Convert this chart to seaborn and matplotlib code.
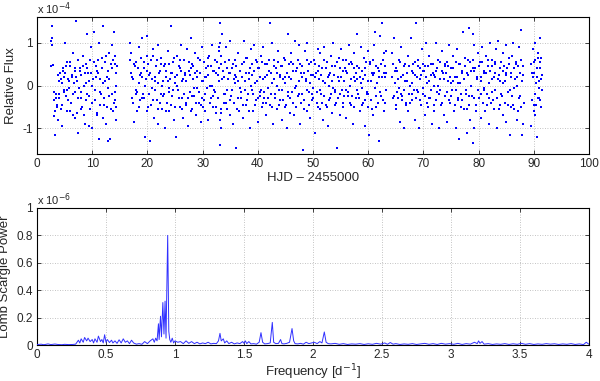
import matplotlib
matplotlib.use("Agg")
import matplotlib.pyplot as plt
import seaborn as sns
import numpy as np
import pandas as pd

# ---------------- data: light curve (flux in units of 1e-4) ----------------
hjd = [
    2.6, 2.7, 2.7, 2.8, 2.9, 3.0, 3.1, 3.3, 3.4, 3.6, 3.8, 3.9,
    4.0, 4.2, 4.3, 4.5, 4.6, 4.8, 4.9,
    5.0, 5.2, 5.3, 5.5, 5.7, 5.8,
    6.0, 6.1, 6.3, 6.5, 6.6, 6.8, 6.9,
    7.0, 7.2, 7.3, 7.5, 7.7, 7.9,
    8.0, 8.2, 8.4, 8.5, 8.7, 8.9,
    9.0, 9.1, 9.3, 9.5, 9.6, 9.8,
    10.0, 10.2, 10.3, 10.5, 10.7, 10.9,
    11.0, 11.2, 11.3, 11.5, 11.7, 11.9,
    12.0, 12.1, 12.3, 12.5, 12.6, 12.8,
    13.0, 13.1, 13.3, 13.5, 13.6, 13.8,
    14.0, 14.1, 14.2, 14.3, 14.4,
    16.9, 17.0, 17.2, 17.3, 17.5, 17.7, 17.9,
    18.0, 18.2, 18.4, 18.5, 18.7, 18.9,
    19.1, 19.2, 19.4, 19.6, 19.7, 19.9,
    20.0, 20.1, 20.3, 20.5, 20.7, 20.8,
    21.0, 21.2, 21.3, 21.5, 21.7, 21.9,
    22.0, 22.2, 22.4, 22.5, 22.7, 22.9,
    23.1, 23.2, 23.4, 23.5, 23.7, 23.9,
    24.0, 24.2, 24.3, 24.5, 24.7, 24.9,
    25.0, 25.2, 25.4, 25.5, 25.7, 25.9,
    26.0, 26.2, 26.3, 26.5, 26.7, 26.8,
    27.0, 27.2, 27.3, 27.5, 27.7, 27.9,
    28.0, 28.1, 28.3, 28.5, 28.7, 28.8,
    29.0, 29.2, 29.4, 29.5, 29.7, 29.9,
    30.0, 30.2, 30.3, 30.5, 30.7, 30.9,
    31.0, 31.2, 31.4, 31.5, 31.7, 31.9,
    32.0, 32.2, 32.3, 32.5, 32.7, 32.9,
    33.0, 33.1, 33.2, 33.2, 33.3, 33.3, 33.4, 33.6, 33.8,
    34.0, 34.2, 34.3, 34.5, 34.7, 34.9,
    35.0, 35.2, 35.4, 35.5, 35.7, 35.9,
    36.0, 36.1, 36.3, 36.5, 36.7, 36.8,
    37.0, 37.2, 37.3, 37.5, 37.7, 37.9,
    38.0, 38.2, 38.4, 38.5, 38.7, 38.9,
    39.0, 39.2, 39.3, 39.5, 39.7, 39.9,
    40.0, 40.2, 40.4, 40.5, 40.7, 40.9,
    41.0, 41.2, 41.3, 41.5, 41.7, 41.9,
    42.0, 42.2, 42.3, 42.5, 42.6, 42.8,
    43.0, 43.2, 43.4, 43.5, 43.7, 43.9,
    44.0, 44.2, 44.3, 44.5, 44.7, 44.9,
    45.0, 45.2, 45.4, 45.5, 45.7, 45.9,
    46.0, 46.2, 46.3, 46.5, 46.7, 46.9,
    47.0, 47.2, 47.4, 47.5, 47.7, 47.9,
    48.0, 48.1, 48.3, 48.5, 48.7, 48.9,
    49.0, 49.2, 49.3, 49.5, 49.7, 49.9,
    50.0, 50.2, 50.4, 50.5, 50.7, 50.9,
    51.0, 51.2, 51.3, 51.5, 51.7, 51.9,
    52.0, 52.2, 52.3, 52.5, 52.7, 52.9,
    53.0, 53.2, 53.4, 53.5, 53.7, 53.9,
    54.0, 54.2, 54.3, 54.5, 54.7, 54.9,
    55.0, 55.2, 55.4, 55.5, 55.7, 55.9,
    56.0, 56.2, 56.3, 56.5, 56.7, 56.9,
    57.0, 57.2, 57.4, 57.5, 57.7, 57.9,
    58.0, 58.2, 58.3, 58.5, 58.7, 58.9,
    59.0, 59.2, 59.4, 59.5, 59.7, 59.9,
    60.0, 60.2, 60.3, 60.5, 60.7, 60.9,
    61.0, 61.2, 61.3, 61.5, 61.7, 61.9,
    62.0, 62.2, 62.4, 62.5, 62.7, 62.9,
    63.0, 63.1, 63.2,
    64.4, 64.5, 64.7, 64.9,
    65.0, 65.2, 65.3, 65.5, 65.7, 65.9,
    66.0, 66.2, 66.4, 66.5, 66.7, 66.9,
    67.0, 67.2, 67.3, 67.5, 67.7, 67.9,
    68.0, 68.2, 68.4, 68.5, 68.7, 68.9,
    69.0, 69.2, 69.3, 69.5, 69.7, 69.9,
    70.0, 70.2, 70.3, 70.5, 70.7, 70.9,
    71.0, 71.2, 71.4, 71.5, 71.7, 71.9,
    72.0, 72.2, 72.3, 72.5, 72.7, 72.9,
    73.0, 73.2, 73.4, 73.5, 73.7, 73.9,
    74.0, 74.2, 74.3, 74.5, 74.7, 74.9,
    75.0, 75.2, 75.4, 75.5, 75.7, 75.9,
    76.0, 76.2, 76.3, 76.5, 76.7, 76.9,
    77.0, 77.2, 77.4, 77.5, 77.7, 77.9,
    78.0, 78.2, 78.3, 78.5, 78.7, 78.9,
    79.0, 79.1, 79.2, 79.3, 79.5, 79.7, 79.9,
    80.0, 80.2, 80.4, 80.5, 80.7, 80.9,
    81.0, 81.2, 81.3, 81.5, 81.7, 81.9,
    82.0, 82.2, 82.4, 82.5, 82.7, 82.9,
    83.0, 83.2, 83.3, 83.5, 83.7, 83.9,
    84.0, 84.2, 84.4, 84.5, 84.7, 84.9,
    85.0, 85.2, 85.3, 85.5, 85.7, 85.9,
    86.0, 86.2, 86.3, 86.5, 86.7, 86.9,
    87.0, 87.2, 87.4, 87.5, 87.7, 87.8,
    88.0, 88.1,
    89.5, 89.7, 89.9,
    90.0, 90.1, 90.2, 90.3, 90.5, 90.6, 90.8, 90.9,
    91.0, 91.1, 91.2, 91.3, 91.4,
]
flux = [
    1.05, 0.95, 1.12, 1.4, 0.48, -0.15, -0.72, -1.15, -0.3, -0.45, -0.8, 0.1,
    -0.2, 0.3, -0.55, 0.05, -0.95, 0.35, -0.1,
    1.0, -0.25, 0.45, -0.6, 0.15, -0.05,
    0.55, -0.4, 0.2, -0.7, 0.75, -0.15, 0.35,
    1.5, -0.65, 0.1, -1.1, 0.4, -0.3,
    0.25, -0.5, 0.7, 0.0, -0.9, 0.5,
    1.2, -0.2, 0.3, -0.95, 0.6, 0.9,
    -1.0, 0.15, 1.25, -0.35, 0.45, -0.7,
    0.3, -1.25, 1.0, -0.15, 0.65, 0.05,
    1.4, -0.45, 0.55, -0.9, 0.2, -1.3,
    0.75, -0.25, -1.25, 0.4, 0.95, -0.6,
    1.25, 0.5, -0.35, 0.0, -0.8,
    1.0, 0.75, -0.3, 0.2, -0.85, 0.45, -0.1,
    0.55, -0.6, 0.9, 0.05, -0.35, 0.3,
    1.1, -0.2, 0.4, -1.2, 0.15, 0.7,
    1.15, -0.5, 0.25, -1.3, 0.6, -0.05,
    0.85, -0.75, 0.1, 0.45, -0.35, 0.95,
    -0.9, 0.35, -0.2, 0.65, -0.55, 0.1,
    0.5, -1.0, 0.2, -0.4, 0.8, -0.15,
    -0.6, 0.3, 1.4, -0.25, 0.55, -0.8,
    0.2, -1.2, 0.7, -0.1, 0.45, -0.5,
    0.95, -0.3, 0.1, -0.75, 0.6, 0.25,
    -0.45, 0.85, -0.95, 0.35, -0.15, 1.1,
    0.5, -0.55, 0.15, -0.25, 0.75, -0.7,
    -0.05, 0.65, -0.4, 0.3, -0.85, 0.9,
    0.1, -0.35, 0.55, -0.6, 0.2, 0.45,
    -0.8, 0.7, 0.0, -0.3, 0.95, -0.5,
    0.35, -0.15, 0.6, -0.65, 0.25, 0.8,
    0.4, 1.45, -1.4, 1.0, -1.0, 0.7, -0.55, 0.15, -0.2,
    0.55, -0.4, 0.9, -0.1, 0.3, -0.7,
    1.05, -0.25, 0.4, -0.9, 0.15, 0.6,
    -1.45, 0.2, -0.55, 0.75, -0.05, 0.35,
    -0.3, 0.5, -0.75, 1.05, 0.1, -0.45,
    0.65, -0.2, 0.3, -1.0, 0.85, -0.1,
    0.25, -0.6, 0.95, 0.05, -0.35, 0.55,
    -0.85, 0.4, -0.15, 0.7, -0.5, 0.15,
    0.9, -0.3, 0.2, -0.7, 0.5, -0.05,
    0.35, 1.45, -0.45, 1.0, 0.05, -0.9,
    0.6, -0.2, 0.3, -0.55, 0.8, -0.1,
    -0.35, 0.45, -0.8, 0.15, 0.65, -0.5,
    0.2, -1.0, 1.2, -0.25, 0.5, -0.65,
    0.75, -0.15, 0.35, -0.7, 1.05, 0.0,
    -0.5, 0.6, -0.2, 0.95, -0.9, 0.3,
    0.45, -1.5, -0.35, 0.8, 0.1, -0.6,
    1.0, -0.15, 0.5, -0.75, 0.25, -0.35,
    -0.05, 0.6, -1.1, 0.3, -0.4, 0.85,
    0.15, -0.55, 0.75, -0.2, 0.4, -0.8,
    0.9, 0.05, -0.45, 0.55, -0.95, 0.25,
    -0.3, 0.7, 0.1, -0.65, 1.0, -0.15,
    0.45, -0.4, -1.45, 0.2, 0.65, -0.7,
    0.85, -0.1, 0.35, -0.5, 0.1, 0.6,
    -0.75, 0.3, -0.25, 0.95, 0.0, -0.45,
    0.5, -0.9, 0.2, 0.75, -0.3, 0.15,
    1.2, -0.2, 0.4, -0.6, 0.9, -0.05,
    -0.4, 0.65, -0.95, 0.25, -0.15, 0.8,
    0.1, -1.15, 0.55, -0.35, 0.3, -0.7,
    0.95, -0.05, 1.25, -0.5, 0.4, -1.3,
    0.35, 1.15, -0.25, 1.45, 0.6, -0.6,
    0.2, -0.4, 0.8,
    0.75, -0.3, 1.1, 0.05,
    -0.55, 0.35, -0.15, 0.6, -0.85, 0.2,
    0.9, -0.25, 0.45, -1.0, 0.1, -0.4,
    0.3, 0.7, -0.6, 0.0, 1.1, -0.2,
    -0.35, 0.5, -0.8, 0.25, 1.45, -0.1,
    0.6, -1.0, 0.15, -0.45, 0.85, 0.35,
    -0.2, 0.45, -0.7, 1.0, 0.05, -0.5,
    0.7, -0.3, 0.25, -0.9, 0.5, 0.0,
    -0.6, 0.35, 1.0, -0.15, 0.6, -1.0,
    0.15, -0.45, 0.8, 0.3, -0.7, 0.45,
    -0.25, 0.55, -0.85, 0.1, 0.95, -0.4,
    0.4, -0.1, 0.7, -0.6, 0.2, -1.0,
    0.85, -0.35, 0.05, -1.25, 0.5, -0.2,
    0.3, 1.25, -0.55, 0.65, -0.1, -1.1,
    0.6, -0.25, 1.35, -0.8, 0.35, -1.35,
    1.2, 0.95, -1.0, 0.4, -0.45, 0.15, 0.75,
    -0.3, 0.55, -0.75, 0.2, 0.9, -0.05,
    0.35, -0.6, 0.7, -0.2, 0.45, -0.9,
    1.0, -0.4, 0.15, 0.6, -0.55, 0.3,
    -0.1, 0.85, -1.0, 1.05, 0.25, -0.45,
    0.55, -0.25, 0.75, -0.7, 0.1, 0.95,
    -0.85, 0.4, -0.15, 0.65, -1.15, 0.3,
    0.7, -0.45, 1.0, -0.05, 0.5, -0.8,
    0.2, -0.6, 0.9, -0.25, 1.3, -1.15,
    0.45, -0.9,
    -0.95, 0.3, 0.85,
    0.55, -0.45, 1.0, -0.7, 0.2, -1.2, 0.65, 0.1,
    -0.3, 0.4, 1.1, -0.5, 0.25,
]

# second set of light-curve samples (denser core near zero)
hjd_b = [
    2.55, 3.05, 3.25, 3.45, 3.65, 3.85,
    4.05, 4.35, 4.45, 4.65, 4.85, 4.95,
    5.05, 5.35, 5.45, 5.65, 5.85, 5.95,
    6.05, 6.35, 6.45, 6.65, 6.85, 6.95,
    7.05, 7.35, 7.45, 7.65, 7.85, 7.95,
    8.05, 8.35, 8.45, 8.65, 8.85, 8.95,
    9.05, 9.35, 9.45, 9.65, 9.85, 9.95,
    10.05, 10.35, 10.45, 10.65, 10.85, 10.95,
    11.05, 11.35, 11.45, 11.65, 11.85, 11.95,
    12.05, 12.35, 12.45, 12.65, 12.85, 12.95,
    13.05, 13.35, 13.45, 13.65, 13.85, 13.95,
    14.05, 14.15, 14.25, 14.35, 14.45,
    16.85, 17.05, 17.35, 17.45, 17.65, 17.85,
    18.05, 18.35, 18.45, 18.65, 18.85, 18.95,
    19.05, 19.35, 19.45, 19.65, 19.85, 19.95,
    20.05, 20.35, 20.45, 20.65, 20.85, 20.95,
    21.05, 21.35, 21.45, 21.65, 21.85, 21.95,
    22.05, 22.35, 22.45, 22.65, 22.85, 22.95,
    23.05, 23.35, 23.45, 23.65, 23.85, 23.95,
    24.05, 24.35, 24.45, 24.65, 24.85, 24.95,
    25.05, 25.35, 25.45, 25.65, 25.85, 25.95,
    26.05, 26.35, 26.45, 26.65, 26.85, 26.95,
    27.05, 27.35, 27.45, 27.65, 27.85, 27.95,
    28.05, 28.35, 28.45, 28.65, 28.85, 28.95,
    29.05, 29.35, 29.45, 29.65, 29.85, 29.95,
    30.05, 30.35, 30.45, 30.65, 30.85, 30.95,
    31.05, 31.35, 31.45, 31.65, 31.85, 31.95,
    32.05, 32.35, 32.45, 32.65, 32.85, 32.95,
    33.05, 33.15, 33.25, 33.35, 33.45, 33.65, 33.85, 33.95,
    34.05, 34.35, 34.45, 34.65, 34.85, 34.95,
    35.05, 35.35, 35.45, 35.65, 35.85, 35.95,
    36.05, 36.35, 36.45, 36.65, 36.85, 36.95,
    37.05, 37.35, 37.45, 37.65, 37.85, 37.95,
    38.05, 38.35, 38.45, 38.65, 38.85, 38.95,
    39.05, 39.35, 39.45, 39.65, 39.85, 39.95,
    40.05, 40.35, 40.45, 40.65, 40.85, 40.95,
    41.05, 41.35, 41.45, 41.65, 41.85, 41.95,
    42.05, 42.35, 42.45, 42.65, 42.85, 42.95,
    43.05, 43.35, 43.45, 43.65, 43.85, 43.95,
    44.05, 44.35, 44.45, 44.65, 44.85, 44.95,
    45.05, 45.35, 45.45, 45.65, 45.85, 45.95,
    46.05, 46.35, 46.45, 46.65, 46.85, 46.95,
    47.05, 47.35, 47.45, 47.65, 47.85, 47.95,
    48.05, 48.35, 48.45, 48.65, 48.85, 48.95,
    49.05, 49.35, 49.45, 49.65, 49.85, 49.95,
    50.05, 50.35, 50.45, 50.65, 50.85, 50.95,
    51.05, 51.35, 51.45, 51.65, 51.85, 51.95,
    52.05, 52.35, 52.45, 52.65, 52.85, 52.95,
    53.05, 53.35, 53.45, 53.65, 53.85, 53.95,
    54.05, 54.35, 54.45, 54.65, 54.85, 54.95,
    55.05, 55.35, 55.45, 55.65, 55.85, 55.95,
    56.05, 56.35, 56.45, 56.65, 56.85, 56.95,
    57.05, 57.35, 57.45, 57.65, 57.85, 57.95,
    58.05, 58.35, 58.45, 58.65, 58.85, 58.95,
    59.05, 59.35, 59.45, 59.65, 59.85, 59.95,
    60.05, 60.35, 60.45, 60.65, 60.85, 60.95,
    61.05, 61.35, 61.45, 61.65, 61.85, 61.95,
    62.05, 62.35, 62.45, 62.65, 62.85, 62.95,
    63.05, 63.15, 63.25,
    64.35, 64.55, 64.65, 64.85, 64.95,
    65.05, 65.35, 65.45, 65.65, 65.85, 65.95,
    66.05, 66.35, 66.45, 66.65, 66.85, 66.95,
    67.05, 67.35, 67.45, 67.65, 67.85, 67.95,
    68.05, 68.35, 68.45, 68.65, 68.85, 68.95,
    69.05, 69.35, 69.45, 69.65, 69.85, 69.95,
    70.05, 70.35, 70.45, 70.65, 70.85, 70.95,
    71.05, 71.35, 71.45, 71.65, 71.85, 71.95,
    72.05, 72.35, 72.45, 72.65, 72.85, 72.95,
    73.05, 73.35, 73.45, 73.65, 73.85, 73.95,
    74.05, 74.35, 74.45, 74.65, 74.85, 74.95,
    75.05, 75.35, 75.45, 75.65, 75.85, 75.95,
    76.05, 76.35, 76.45, 76.65, 76.85, 76.95,
    77.05, 77.35, 77.45, 77.65, 77.85, 77.95,
    78.05, 78.35, 78.45, 78.65, 78.85, 78.95,
    79.05, 79.15, 79.25, 79.45, 79.65, 79.85,
    80.05, 80.35, 80.45, 80.65, 80.85, 80.95,
    81.05, 81.35, 81.45, 81.65, 81.85, 81.95,
    82.05, 82.35, 82.45, 82.65, 82.85, 82.95,
    83.05, 83.35, 83.45, 83.65, 83.85, 83.95,
    84.05, 84.35, 84.45, 84.65, 84.85, 84.95,
    85.05, 85.35, 85.45, 85.65, 85.85, 85.95,
    86.05, 86.35, 86.45, 86.65, 86.85, 86.95,
    87.05, 87.35, 87.45, 87.65, 87.75, 87.85,
    88.05, 88.15,
    89.45, 89.6, 89.8, 89.95,
    90.05, 90.15, 90.25, 90.35, 90.45, 90.65, 90.75, 90.85, 90.95,
    91.05, 91.15, 91.25, 91.35, 91.45,
]
flux_b = [
    0.45, -0.35, -0.6, -0.2, -0.5, 0.25,
    -0.3, 0.15, -0.45, 0.4, -0.15, 0.2,
    0.3, -0.1, 0.55, -0.35, 0.1, 0.45,
    -0.6, 0.25, -0.2, 0.05, -0.75, 0.4,
    0.2, -0.3, 0.6, -0.05, 0.35, -0.55,
    -0.15, 0.45, -0.7, 0.3, 0.05, -0.35,
    0.4, -0.25, 0.1, -0.55, 0.3, 0.0,
    -0.4, 0.55, -0.1, 0.2, -0.65, 0.35,
    0.6, -0.45, 0.15, -0.2, 0.4, -0.75,
    -0.3, 0.1, 0.7, -0.5, 0.35, -0.05,
    0.15, -0.55, 0.5, -0.2, 0.6, -0.4,
    -0.15, 0.7, 0.3, -0.5, 0.45,
    0.6, 0.3, -0.4, 0.15, 0.5, -0.2,
    -0.15, 0.4, -0.5, 0.25, 0.65, -0.3,
    0.2, 0.55, -0.3, 0.0, -0.6, 0.35,
    0.5, -0.2, 0.3, -0.45, 0.15, 0.7,
    -0.35, 0.2, -0.1, 0.6, 0.05, -0.55,
    0.3, -0.4, 0.5, 0.0, -0.25, 0.45,
    -0.2, 0.35, -0.6, 0.1, 0.5, -0.05,
    0.15, -0.45, 0.3, -0.1, 0.65, 0.05,
    -0.5, 0.25, 0.0, -0.3, 0.4, 0.6,
    0.35, -0.55, 0.15, -0.2, 0.3, -0.4,
    0.1, -0.3, 0.55, 0.25, -0.6, 0.4,
    -0.25, 0.45, -0.05, 0.3, -0.4, 0.2,
    0.35, -0.15, 0.6, -0.45, 0.1, -0.3,
    -0.5, 0.2, -0.2, 0.4, -0.05, 0.65,
    0.25, -0.4, 0.45, 0.0, -0.25, 0.35,
    -0.1, 0.3, -0.5, 0.55, -0.3, 0.1,
    0.9, -0.8, 0.5, -0.65, 1.2, 0.35, -0.4, 0.2,
    -0.2, 0.4, -0.55, 0.15, 0.6, -0.35,
    0.3, -0.1, 0.5, -0.4, 0.05, 0.25,
    0.45, -0.3, 0.1, -0.6, 0.35, -0.15,
    0.2, -0.45, 0.55, -0.1, 0.3, 0.65,
    -0.35, 0.15, -0.6, 0.4, 0.0, 0.5,
    -0.2, 0.35, -0.45, 0.6, 0.1, -0.3,
    0.4, -0.25, 0.2, -0.1, 0.55, -0.4,
    -0.15, 0.5, -0.4, 0.25, -0.3, 0.35,
    0.6, -0.2, 0.3, -0.5, 0.15, 0.45,
    -0.3, 0.4, 0.0, 0.55, -0.45, 0.2,
    0.25, -0.1, 0.45, -0.35, 0.05, 0.6,
    -0.45, 0.3, -0.15, 0.2, -0.3, 0.55,
    0.15, -0.4, 0.5, -0.05, 0.35, -0.5,
    0.4, -0.25, 0.1, 0.5, -0.4, 0.2,
    -0.2, 0.3, -0.55, 0.15, 0.6, -0.1,
    0.35, -0.45, 0.05, 0.55, -0.2, 0.25,
    -0.3, 0.2, 0.5, -0.15, 0.35, -0.5,
    0.45, -0.1, 0.25, -0.4, 0.1, 0.6,
    -0.25, 0.4, -0.5, 0.2, 0.0, -0.35,
    0.3, -0.2, 0.45, -0.05, 0.25, -0.45,
    -0.1, 0.55, -0.3, 0.1, -0.2, 0.4,
    0.2, -0.4, 0.6, -0.25, 0.4, -0.1,
    0.35, -0.15, 0.5, -0.4, 0.15, 0.55,
    -0.25, 0.4, -0.5, 0.1, 0.3, -0.1,
    0.45, -0.3, 0.2, 0.05, -0.45, 0.35,
    0.15, -0.35, 0.4, 0.55, -0.2, -0.5,
    -0.2, 0.5, 0.1, -0.55, 0.25, 0.6,
    0.3, -0.25, 0.45, 0.05, -0.4, 0.2,
    -0.15, 0.5, 0.2, -0.35, 0.3, 0.75,
    0.45, -0.1, 0.3,
    0.2, 0.5, -0.25, 0.35, -0.45,
    0.4, -0.3, 0.15, -0.05, 0.55, -0.2,
    -0.35, 0.25, -0.1, 0.5, -0.45, 0.3,
    0.1, -0.2, 0.45, -0.4, 0.35, 0.05,
    0.3, -0.1, 0.55, -0.3, 0.2, 0.45,
    -0.15, 0.4, -0.35, 0.25, -0.05, 0.5,
    0.35, -0.25, 0.2, -0.4, 0.45, 0.1,
    -0.3, 0.5, -0.1, 0.3, -0.45, 0.25,
    0.2, -0.35, 0.4, 0.0, -0.2, 0.55,
    -0.1, 0.35, -0.4, 0.15, 0.5, -0.25,
    0.3, -0.15, 0.45, -0.35, 0.2, 0.05,
    -0.25, 0.4, 0.1, -0.45, 0.55, -0.1,
    0.2, -0.3, 0.5, 0.05, -0.5, 0.35,
    -0.35, 0.15, 0.45, -0.2, 0.3, -0.55,
    0.25, -0.45, 0.55, 0.0, -0.25, 0.4,
    0.6, -0.3, 0.35, -0.6, 0.2, -0.1,
    0.45, -0.2, 0.1, 0.55, -0.4, 0.3,
    -0.1, 0.3, -0.45, 0.6, 0.05, -0.3,
    0.35, -0.15, 0.45, -0.35, 0.2, 0.55,
    0.5, -0.3, 0.15, -0.55, 0.4, 0.1,
    -0.2, 0.35, 0.05, 0.45, -0.4, 0.25,
    0.3, -0.45, 0.5, -0.1, 0.2, -0.5,
    -0.25, 0.4, -0.55, 0.15, 0.55, 0.0,
    0.45, -0.3, 0.3, -0.5, 0.6, 0.1,
    0.25, -0.4,
    0.5, -0.35, 0.2, -0.6,
    0.3, -0.2, 0.6, 0.05, -0.45, 0.4, -0.3, 0.75, -0.05,
    0.55, -0.35, 0.15, 0.65, -0.1,
]

# ---------------- data: Lomb-Scargle periodogram (power in units of 1e-6) ----------------
freq = [
    0.00, 0.03, 0.05, 0.08, 0.10, 0.13, 0.15, 0.18, 0.20, 0.23, 0.26, 0.28,
    0.30, 0.31, 0.32, 0.335, 0.345, 0.36, 0.37, 0.385, 0.40, 0.41, 0.42, 0.435,
    0.445, 0.46, 0.47, 0.48, 0.49, 0.50, 0.51, 0.525, 0.54, 0.55, 0.565, 0.58,
    0.595, 0.61, 0.625, 0.64, 0.655, 0.67, 0.685, 0.70, 0.72, 0.74, 0.76, 0.78,
    0.80, 0.82, 0.84, 0.85, 0.86, 0.87, 0.88, 0.885, 0.895, 0.902, 0.912, 0.92,
    0.928, 0.935, 0.947, 0.955, 0.962, 0.97, 0.98, 0.99, 1.00, 1.02, 1.04, 1.06,
    1.08, 1.10, 1.12, 1.14, 1.16, 1.18, 1.20, 1.22, 1.24, 1.26, 1.28, 1.30,
    1.315, 1.326, 1.335, 1.35, 1.36, 1.375, 1.39, 1.41, 1.43, 1.45, 1.47, 1.49,
    1.50, 1.51, 1.52, 1.535, 1.55, 1.57, 1.59, 1.61, 1.623, 1.635, 1.65, 1.67,
    1.69, 1.705, 1.715, 1.73, 1.75, 1.765, 1.775, 1.79, 1.81, 1.83, 1.848, 1.86,
    1.87, 1.89, 1.91, 1.93, 1.95, 1.97, 1.99, 2.01, 2.03, 2.05, 2.065, 2.082,
    2.095, 2.11, 2.13, 2.16, 2.19, 2.22, 2.25, 2.28, 2.31, 2.34, 2.37, 2.40,
    2.43, 2.46, 2.49, 2.52, 2.54, 2.56, 2.58, 2.60, 2.63, 2.66, 2.69, 2.72,
    2.75, 2.78, 2.81, 2.84, 2.87, 2.90, 2.93, 2.96, 2.99, 3.02, 3.05, 3.08,
    3.11, 3.14, 3.17, 3.19, 3.20, 3.21, 3.225, 3.24, 3.27, 3.30, 3.33, 3.36,
    3.39, 3.42, 3.45, 3.48, 3.51, 3.54, 3.57, 3.60, 3.63, 3.66, 3.69, 3.72,
    3.75, 3.78, 3.81, 3.84, 3.87, 3.90, 3.93, 3.96, 3.98, 4.00,
]
power = [
    0.003, 0.006, 0.002, 0.008, 0.003, 0.007, 0.004, 0.002, 0.005, 0.003, 0.004, 0.006,
    0.035, 0.015, 0.045, 0.02, 0.055, 0.03, 0.05, 0.025, 0.04, 0.015, 0.045, 0.02,
    0.065, 0.025, 0.04, 0.015, 0.075, 0.02, 0.04, 0.018, 0.035, 0.015, 0.03, 0.012,
    0.038, 0.015, 0.045, 0.02, 0.03, 0.01, 0.035, 0.015, 0.006, 0.01, 0.005, 0.025,
    0.01, 0.03, 0.045, 0.02, 0.05, 0.03, 0.155, 0.04, 0.21, 0.06, 0.31, 0.08,
    0.32, 0.05, 0.80, 0.10, 0.04, 0.02, 0.05, 0.015, 0.03, 0.02, 0.025, 0.01,
    0.03, 0.012, 0.025, 0.01, 0.02, 0.008, 0.015, 0.01, 0.02, 0.008, 0.012, 0.01,
    0.03, 0.085, 0.03, 0.045, 0.015, 0.03, 0.01, 0.02, 0.008, 0.015, 0.01, 0.025,
    0.012, 0.03, 0.01, 0.025, 0.008, 0.01, 0.006, 0.02, 0.09, 0.02, 0.008, 0.01,
    0.015, 0.165, 0.02, 0.01, 0.012, 0.04, 0.01, 0.008, 0.012, 0.02, 0.12, 0.03,
    0.01, 0.008, 0.012, 0.006, 0.02, 0.01, 0.015, 0.02, 0.01, 0.025, 0.015, 0.095,
    0.02, 0.01, 0.008, 0.012, 0.005, 0.01, 0.004, 0.008, 0.006, 0.01, 0.004, 0.009,
    0.005, 0.012, 0.006, 0.015, 0.005, 0.018, 0.006, 0.01, 0.004, 0.008, 0.005, 0.01,
    0.004, 0.008, 0.012, 0.005, 0.01, 0.004, 0.012, 0.006, 0.01, 0.005, 0.012, 0.004,
    0.01, 0.006, 0.02, 0.01, 0.03, 0.012, 0.025, 0.006, 0.01, 0.004, 0.008, 0.005,
    0.01, 0.004, 0.009, 0.005, 0.012, 0.005, 0.01, 0.004, 0.008, 0.005, 0.01, 0.006,
    0.009, 0.004, 0.008, 0.005, 0.01, 0.004, 0.008, 0.003, 0.02, 0.005,
]

x_ticks_top = [0, 10, 20, 30, 40, 50, 60, 70, 80, 90, 100]
y_ticks_top = [-1, 0, 1]
x_ticks_bot = [0, 0.5, 1, 1.5, 2, 2.5, 3, 3.5, 4]
x_ticklabels_bot = ["0", "0.5", "1", "1.5", "2", "2.5", "3", "3.5", "4"]
y_ticks_bot = [0, 0.2, 0.4, 0.6, 0.8, 1.0]
y_ticklabels_bot = ["0", "0.2", "0.4", "0.6", "0.8", "1"]

lc = pd.DataFrame({"hjd": hjd + hjd_b, "flux": flux + flux_b})
ls = pd.DataFrame({"freq": freq, "power": power})

sns.set_style("ticks")
plt.rcParams["font.family"] = ["Liberation Sans", "DejaVu Sans"]

fig = plt.figure(figsize=(6.0, 3.81), dpi=100)
ax1 = fig.add_axes([37 / 600, 1 - 154 / 381, 552 / 600, 137 / 381])
ax2 = fig.add_axes([37 / 600, 1 - 345 / 381, 552 / 600, 137 / 381])

tick_fs = 8.5
label_fs = 9.5

# top panel
sns.scatterplot(data=lc, x="hjd", y="flux", ax=ax1, color="#0000ff",
                marker="s", s=3.5, linewidth=0, legend=False, zorder=3)
ax1.set_xlim(0, 100)
ax1.set_ylim(-1.6, 1.6)
ax1.set_xticks(x_ticks_top)
ax1.set_yticks(y_ticks_top)
ax1.set_xticklabels([str(v) for v in x_ticks_top])
ax1.set_yticklabels([str(v) for v in y_ticks_top])
ax1.set_xlabel("HJD \u2013 2455000", fontsize=label_fs, labelpad=1)
ax1.set_ylabel("Relative Flux", fontsize=label_fs, labelpad=4)
ax1.text(0.0, 1.0, r"x 10$^{-4}$", transform=ax1.transAxes,
         fontsize=8, ha="left", va="bottom")

# bottom panel
sns.lineplot(data=ls, x="freq", y="power", ax=ax2, color="#3030ff",
             linewidth=0.7, sort=False, estimator=None, zorder=3)
ax2.set_xlim(0, 4)
ax2.set_ylim(0, 1.0)
ax2.set_xticks(x_ticks_bot)
ax2.set_xticklabels(x_ticklabels_bot)
ax2.set_yticks(y_ticks_bot)
ax2.set_yticklabels(y_ticklabels_bot)
ax2.set_xlabel(r"Frequency [d$^{-1}$]", fontsize=label_fs, labelpad=1)
ax2.set_ylabel("Lomb Scargle Power", fontsize=label_fs, labelpad=4)
ax2.text(0.0, 1.0, r"x 10$^{-6}$", transform=ax2.transAxes,
         fontsize=8, ha="left", va="bottom")

for ax in (ax1, ax2):
    ax.grid(True, linestyle=(0, (1, 2)), color="#b0b0b0", linewidth=0.6)
    ax.tick_params(direction="in", length=3, width=0.6, labelsize=tick_fs,
                   top=True, right=True, pad=3)
    for sp in ax.spines.values():
        sp.set_visible(True)
        sp.set_linewidth(0.8)
        sp.set_color("black")

fig.savefig("out.png", dpi=100)
